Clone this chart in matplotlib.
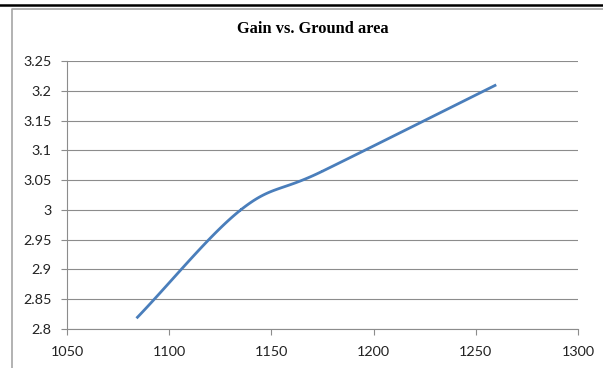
import numpy as np
import matplotlib
matplotlib.use("Agg")
import matplotlib.pyplot as plt
from matplotlib.lines import Line2D

# values
ground_area = [1084, 1135, 1175, 1260]
gain = [2.818, 3.000, 3.065, 3.210]
x_ticks = [1050, 1100, 1150, 1200, 1250, 1300]
y_ticks = [2.8, 2.85, 2.9, 2.95, 3.0, 3.05, 3.1, 3.15, 3.2, 3.25]
y_labels = ["2.8", "2.85", "2.9", "2.95", "3", "3.05", "3.1", "3.15", "3.2", "3.25"]


def smooth(xs, ys, n=40):
  # Catmull-Rom through the points, like the spreadsheet "smoothed line"
  xs = np.asarray(xs, float)
  ys = np.asarray(ys, float)
  px = np.concatenate([[2*xs[0]-xs[1]], xs, [2*xs[-1]-xs[-2]]])
  py = np.concatenate([[2*ys[0]-ys[1]], ys, [2*ys[-1]-ys[-2]]])
  out_x, out_y = [], []
  t = np.linspace(0, 1, n)
  for i in range(1, len(px)-2):
    for p, out in ((px, out_x), (py, out_y)):
      p0, p1, p2, p3 = p[i-1], p[i], p[i+1], p[i+2]
      out.extend(0.5*((2*p1) + (-p0+p2)*t + (2*p0-5*p1+4*p2-p3)*t**2 + (-p0+3*p1-3*p2+p3)*t**3))
  return out_x, out_y


W, H = 603, 368
fig = plt.figure(figsize=(W/100, H/100), dpi=100)

# page rule and chart frame
fig.add_artist(Line2D([0, 1], [1-5/H, 1-5/H], color="black", lw=1.8))
fig.add_artist(Line2D([11.5/W, 11.5/W, 1], [0, 1-8.5/H, 1-8.5/H], color="#a6a6a6", lw=1.2))

ax = fig.add_axes([67/W, 1-329/H, (578-67)/W, (329-61)/H])
sx, sy = smooth(ground_area, gain)
ax.plot(sx, sy, color="#4a7ebb", lw=2.0, solid_capstyle="butt", zorder=3)

ax.set_xlim(1050, 1300)
ax.set_ylim(2.8, 3.25)
ax.set_xticks(x_ticks)
ax.set_yticks(y_ticks)
ax.set_yticklabels(y_labels)
ax.grid(axis="y", color="#8c8c8c", lw=0.8)
ax.set_axisbelow(True)

for s in ["top", "right"]:
  ax.spines[s].set_visible(False)
for s in ["left", "bottom"]:
  ax.spines[s].set_color("#8c8c8c")
  ax.spines[s].set_linewidth(0.8)

ax.tick_params(axis="x", direction="out", length=4, width=0.8, color="#8c8c8c", pad=8)
ax.tick_params(axis="y", direction="out", length=4, width=0.8, color="#8c8c8c", pad=7)
for lab in ax.get_xticklabels() + ax.get_yticklabels():
  lab.set_fontfamily("Lato")
  lab.set_fontsize(10.4)
  lab.set_color("#222222")

fig.text(313/W, 1-29/H, "Gain vs. Ground area", ha="center", va="center",
         fontfamily="Liberation Serif", fontweight="bold", fontsize=11.8)

fig.savefig("out.png", dpi=100)
